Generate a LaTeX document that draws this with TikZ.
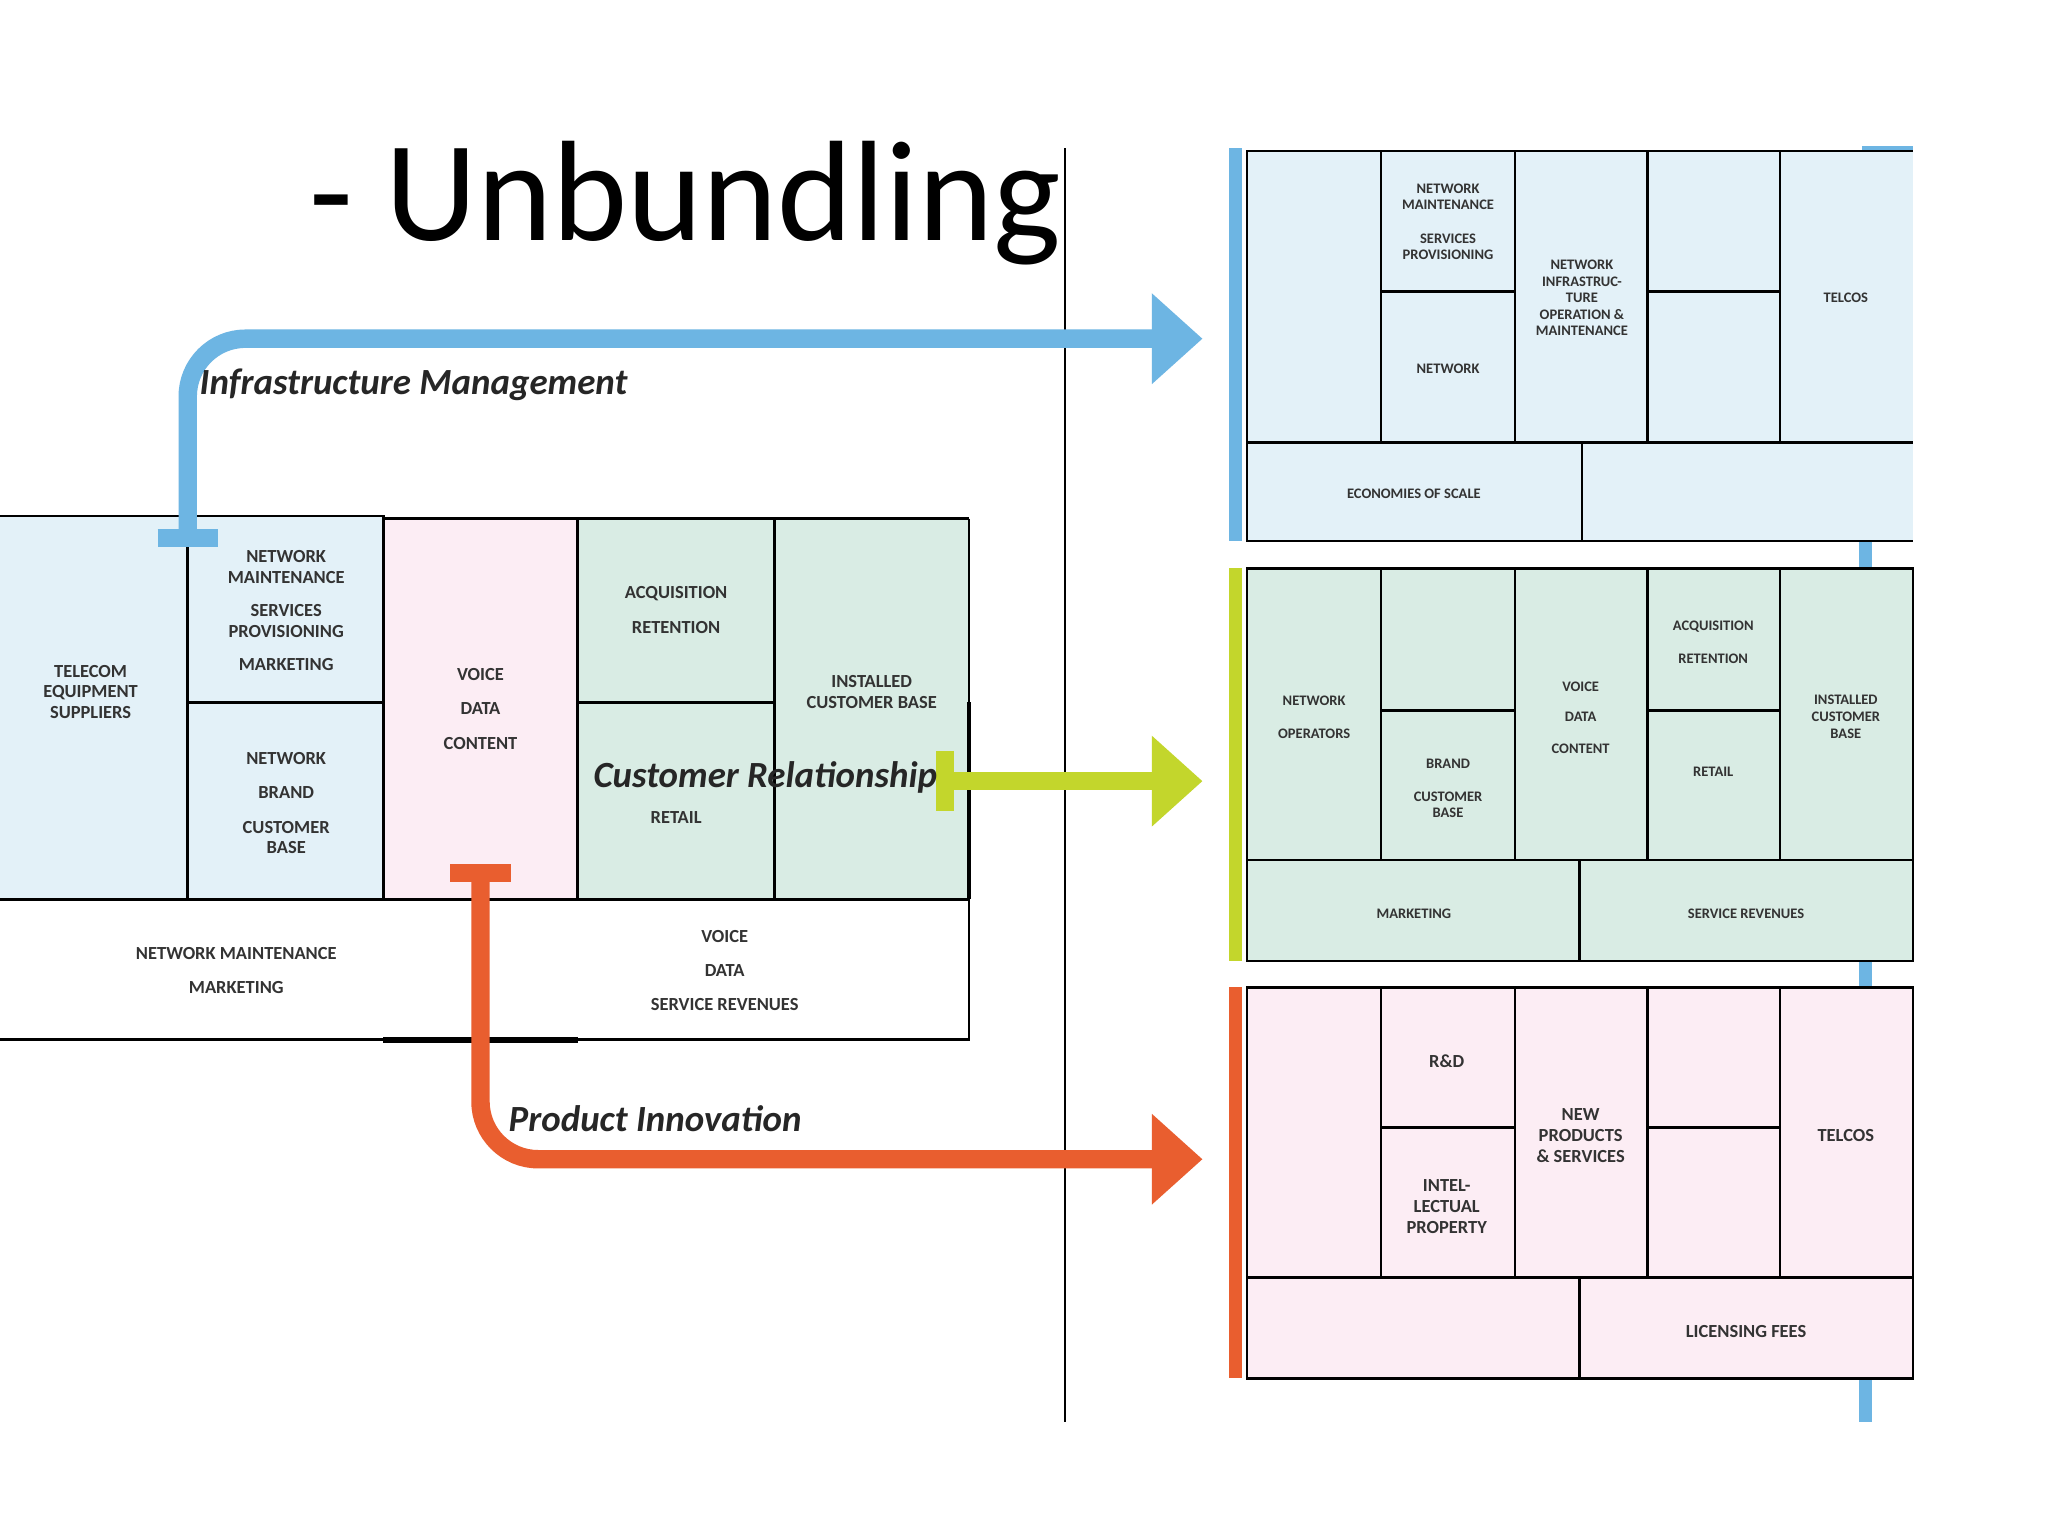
\documentclass[tikz,border=0pt]{standalone}
\usepackage{fontspec}
\setmainfont{Carlito}
\usetikzlibrary{arrows.meta}
\definecolor{lb}{HTML}{E3F1F8}
\definecolor{lp}{HTML}{FCEDF4}
\definecolor{lg}{HTML}{D9ECE4}
\definecolor{bl}{HTML}{6DB5E3}
\definecolor{gr}{HTML}{C3D62C}
\definecolor{orc}{HTML}{E95E2F}
\definecolor{tx}{HTML}{333333}
\tikzset{
 cell/.style={draw=black,line width=1.1pt},
 lt/.style={font=\fontsize{8}{9}\selectfont\bfseries,text=tx,align=center,inner sep=0pt},
 pt/.style={font=\fontsize{6.3}{7.2}\selectfont\bfseries,text=tx,align=center,inner sep=0pt},
 it/.style={font=\fontsize{16}{18}\selectfont\bfseries\itshape,text=black!85,inner sep=0pt},
 flow/.style={line width=8pt,rounded corners=25pt},
 tip/.style={-{Triangle[length=22pt,width=38pt]}}
}
\begin{document}
\begin{tikzpicture}[x=0.02cm,y=-0.02cm]
\useasboundingbox (0,0) rectangle (1560,1170);
\fill[white] (0,0) rectangle (1560,1170);
% title
\node[font=\fontsize{62}{70}\selectfont,anchor=center] (title) at (522,155) {- Unbundling};
% divider
\draw[line width=1pt] (811,113) -- (811,1083);
% left diagram fills
\fill[lb] (0,393) rectangle (292,685);
\fill[lp] (292,395) rectangle (440,685);
\fill[lg] (440,395) rectangle (738,685);
\draw[cell] (0,393) -- (292,393) -- (292,395) -- (738,395);
\draw[cell] (143,393) -- (143,685);
\draw[cell] (292,393) -- (292,685);
\draw[cell] (440,395) -- (440,685);
\draw[cell] (590,395) -- (590,685);
\draw[cell] (143,535) -- (292,535);
\draw[cell] (440,535) -- (590,535);
\draw[cell] (0,685) -- (738,685);
\draw[line width=1.8pt] (738,535) -- (738,685);
\draw[cell] (738,395) -- (738,535);
\draw[cell] (738,685) -- (738,792) -- (0,792);
\draw[line width=2.5pt] (292,792) -- (440,792);
% left texts
\node[lt] (tel) at (69,527) {TELECOM\\EQUIPMENT\\SUPPLIERS};
\node[lt] (nm1) at (218,432) {NETWORK\\MAINTENANCE};
\node[lt] (sp1) at (218,473) {SERVICES\\PROVISIONING};
\node[lt] (mk1) at (218,506) {MARKETING};
\node[lt] (nw1) at (218,578) {NETWORK};
\node[lt] (br1) at (218,604) {BRAND};
\node[lt] (cb1) at (218,638) {CUSTOMER\\BASE};
\node[lt] (vo1) at (366,514) {VOICE};
\node[lt] (da1) at (366,540) {DATA};
\node[lt] (co1) at (366,566) {CONTENT};
\node[lt] (ac1) at (515,452) {ACQUISITION};
\node[lt] (re1) at (515,478) {RETENTION};
\node[lt] (rt1) at (515,623) {RETAIL};
\node[lt] (icb) at (664,527) {INSTALLED\\CUSTOMER BASE};
\node[lt] (nmm) at (180,726) {NETWORK MAINTENANCE};
\node[lt] (mkm) at (180,752) {MARKETING};
\node[lt] (vo2) at (552,713) {VOICE};
\node[lt] (da2) at (552,739) {DATA};
\node[lt] (sr2) at (552,765) {SERVICE REVENUES};
% flows
\coordinate (bS) at (143,408);
\coordinate (bC) at (143,258);
\coordinate (bE) at (916,258);
\draw[bl,flow,tip] (bS) -- (bC) -- (bE);
\draw[bl,line width=8pt] (120,410) -- (166,410);
\coordinate (gS) at (720,595);
\coordinate (gE) at (916,595);
\draw[gr,line width=8pt,tip] (gS) -- (gE);
\draw[gr,line width=8pt] (720,572) -- (720,618);
\coordinate (oS) at (366,664);
\coordinate (oC) at (366,883);
\coordinate (oE) at (916,883);
\draw[orc,flow,tip] (oS) -- (oC) -- (oE);
\draw[orc,line width=8pt] (343,665) -- (389,665);
\node[it] (lim) at (315,293) {Infrastructure Management};
\node[it] (lcr) at (583,592) {Customer Relationship};
\node[it] (lpi) at (499,852) {Product Innovation};
% connector bars between panels
\fill[bl] (1416,412) rectangle (1426,433);
\fill[bl] (1416,732) rectangle (1426,752);
\fill[bl] (1416,1050) rectangle (1426,1083);
\fill[bl] (1418,111) rectangle (1457,114);
% panel 1
\fill[lb] (950,115) rectangle (1457,412);
\fill[bl] (936,113) rectangle (946,412);
\draw[cell] (1457,115) -- (950,115) -- (950,412) -- (1457,412);
\draw[cell] (950,337) -- (1457,337);
\foreach \x in {1052,1154,1255,1356} \draw[cell] (\x,115) -- (\x,337);
\draw[cell] (1052,222) -- (1154,222);
\draw[cell] (1255,222) -- (1356,222);
\draw[cell] (1205,337) -- (1205,412);
\node[pt] (p1a) at (1103,150) {NETWORK\\MAINTENANCE};
\node[pt] (p1b) at (1103,188) {SERVICES\\PROVISIONING};
\node[pt] (p1c) at (1103,281) {NETWORK};
\node[pt] (p1d) at (1205,227) {NETWORK\\INFRASTRUC-\\TURE\\OPERATION \&\\MAINTENANCE};
\node[pt] (p1e) at (1406,227) {TELCOS};
\node[pt] (p1f) at (1077,376) {ECONOMIES OF SCALE};
% panel 2
\fill[lg] (950,433) rectangle (1457,732);
\fill[gr] (936,433) rectangle (946,732);
\draw[cell] (950,433) rectangle (1457,732);
\draw[cell] (950,655) -- (1457,655);
\foreach \x in {1052,1154,1255,1356} \draw[cell] (\x,433) -- (\x,655);
\draw[cell] (1052,541) -- (1154,541);
\draw[cell] (1255,541) -- (1356,541);
\draw[cell] (1203,655) -- (1203,732);
\node[pt] (p2a) at (1001,534) {NETWORK};
\node[pt] (p2b) at (1001,559) {OPERATORS};
\node[pt] (p2c) at (1103,582) {BRAND};
\node[pt] (p2d) at (1103,613) {CUSTOMER\\BASE};
\node[pt] (p2e) at (1204,523) {VOICE};
\node[pt] (p2f) at (1204,546) {DATA};
\node[pt] (p2g) at (1204,570) {CONTENT};
\node[pt] (p2h) at (1305,477) {ACQUISITION};
\node[pt] (p2i) at (1305,502) {RETENTION};
\node[pt] (p2j) at (1305,588) {RETAIL};
\node[pt] (p2k) at (1406,546) {INSTALLED\\CUSTOMER\\BASE};
\node[pt] (p2l) at (1077,696) {MARKETING};
\node[pt] (p2m) at (1330,696) {SERVICE REVENUES};
% panel 3
\fill[lp] (950,752) rectangle (1457,1050);
\fill[orc] (936,752) rectangle (946,1050);
\draw[cell] (950,752) rectangle (1457,1050);
\draw[cell] (950,973) -- (1457,973);
\foreach \x in {1052,1154,1255,1356} \draw[cell] (\x,752) -- (\x,973);
\draw[cell] (1052,859) -- (1154,859);
\draw[cell] (1255,859) -- (1356,859);
\draw[cell] (1203,973) -- (1203,1050);
\node[lt] (p3a) at (1102,808) {R\&D};
\node[lt] (p3b) at (1102,919) {INTEL-\\LECTUAL\\PROPERTY};
\node[lt] (p3c) at (1204,865) {NEW\\PRODUCTS\\\& SERVICES};
\node[lt] (p3d) at (1406,865) {TELCOS};
\node[lt] (p3e) at (1330,1014) {LICENSING FEES};
\end{tikzpicture}
\end{document}
